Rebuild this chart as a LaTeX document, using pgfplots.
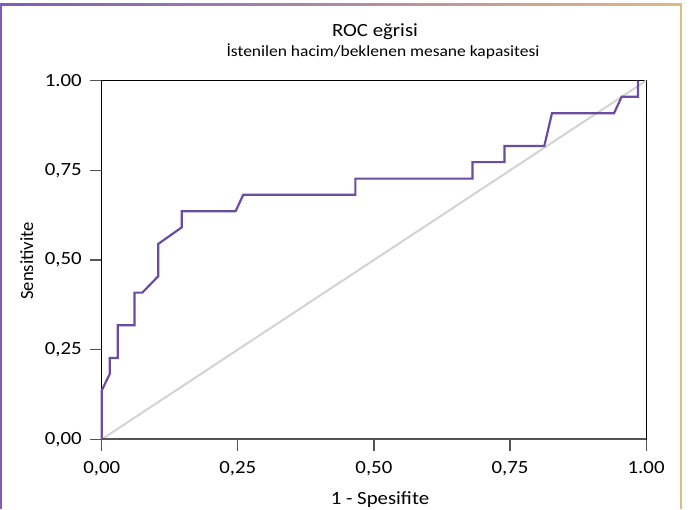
\documentclass[border=0pt]{standalone}
\usepackage{fontspec}
\setmainfont{Carlito}
\usepackage{pgfplots}
\pgfplotsset{compat=1.18}
\definecolor{roc}{HTML}{6A4CA3}
\definecolor{diag}{HTML}{D3D3D3}
\definecolor{frameL}{HTML}{7E5BBF}
\definecolor{frameM}{HTML}{9CCFE0}
\definecolor{frameR}{HTML}{DDBB85}
\definecolor{axgray}{HTML}{555555}
\begin{document}
\begin{tikzpicture}
% page: 694 x 509 px, 1px = 0.5pt, origin top left
\path[use as bounding box] (0,0) rectangle (347pt,-254.5pt);
% outer frame
\shade[left color=frameL, middle color=frameM, right color=frameR] (0pt,-1.75pt) rectangle (341pt,-2.75pt);
\fill[frameL] (0pt,-1.75pt) rectangle (1pt,-254.5pt);
\fill[frameR] (339.75pt,-1.75pt) rectangle (340.75pt,-254.5pt);
% titles
\node[font=\fontsize{9.3}{11}\selectfont, xscale=1.12, anchor=base] at (187.5pt,-18pt) {ROC eğrisi};
\node[font=\fontsize{7.8}{9}\selectfont, xscale=1.12, anchor=base] at (191.5pt,-28.3pt) {İstenilen hacim/beklenen mesane kapasitesi};
\node[font=\fontsize{9.3}{11}\selectfont, xscale=1.12, anchor=base] at (190pt,-252pt) {1 - Spesifite};
\node[font=\fontsize{9.3}{11}\selectfont, rotate=90, anchor=base] at (16.5pt,-130.5pt) {Sensitivite};
\begin{axis}[
    at={(50.85pt,-219.65pt)}, anchor=south west,
    scale only axis,
    width=272.2pt, height=179.3pt,
    xmin=0, xmax=1, ymin=0, ymax=1,
    xtick={0,0.25,0.5,0.75,1},
    ytick={0,0.25,0.5,0.75,1},
    xticklabels={0{,}00,0{,}25,0{,}50,0{,}75,1.00},
    yticklabels={0{,}00,0{,}25,0{,}50,0{,}75,1.00},
    tick align=outside,
    xtick pos=left, ytick pos=left,
    major tick length=6pt,
    every tick/.style={axgray, line width=0.6pt},
    tick label style={font=\fontsize{9.3}{11}\selectfont, xscale=1.12},
    xticklabel style={yshift=-1.5pt},
    axis line style={black, line width=0.6pt},
    clip=false,
]
\addplot[diag, line width=1pt] coordinates {(0,0) (1,1)};
\addplot[roc, line width=1.1pt, line join=miter] coordinates {
(0,0) (0,0.136) (0.0147,0.182) (0.0147,0.227) (0.0294,0.227) (0.0294,0.318)
(0.0603,0.318) (0.0603,0.409) (0.0746,0.409) (0.104,0.455) (0.104,0.545)
(0.147,0.591) (0.147,0.636) (0.246,0.636) (0.26,0.682) (0.466,0.682)
(0.466,0.727) (0.681,0.727) (0.681,0.773) (0.740,0.773) (0.740,0.818)
(0.813,0.818) (0.827,0.909) (0.941,0.909) (0.955,0.955) (0.985,0.955)
(0.985,1.0)};
\draw[axgray, line width=1pt] (axis cs:0,0) -- (axis cs:1,0);
\end{axis}
\end{tikzpicture}
\end{document}
